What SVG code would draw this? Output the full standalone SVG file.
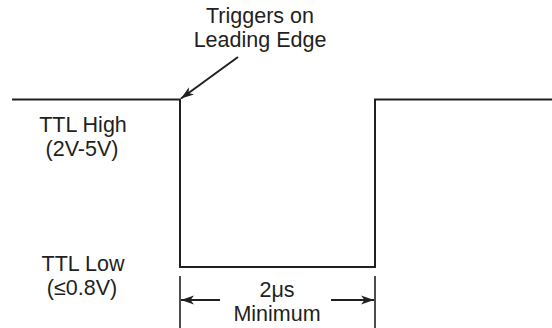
<svg xmlns="http://www.w3.org/2000/svg" width="552" height="328" viewBox="0 0 552 328">
  <style>
    .wave { fill: none; stroke: #231f20; stroke-width: 2; stroke-linejoin: miter; }
    .tick { fill: none; stroke: #231f20; stroke-width: 1.6; }
    .arr { fill: none; stroke: #231f20; stroke-width: 2; }
    text { font-family: "Liberation Sans", Arial, sans-serif; font-size: 21.5px; fill: #231f20; text-anchor: middle; }
  </style>
  <defs>
    <marker id="ah" markerWidth="14" markerHeight="10" refX="13" refY="5" orient="auto" markerUnits="userSpaceOnUse">
      <path d="M0,0.5 L13,5 L0,9.5 L3.5,5 Z" fill="#231f20"/>
    </marker>
  </defs>
  <rect width="552" height="328" fill="#ffffff"/>
  <g id="waveform">
    <path class="wave" d="M12,99.5 H180 V267 H375 V99.5 H552"/>
  </g>
  <g id="connectors">
    <line class="arr" x1="238" y1="57" x2="181" y2="98.5" marker-end="url(#ah)"/>
    <line class="tick" x1="180" y1="276" x2="180" y2="328"/>
    <line class="tick" x1="375" y1="276" x2="375" y2="328"/>
    <line class="arr" x1="220" y1="300" x2="181" y2="300" marker-end="url(#ah)"/>
    <line class="arr" x1="331" y1="300" x2="374" y2="300" marker-end="url(#ah)"/>
  </g>
  <g id="trigger-label">
    <text x="260" y="23">Triggers on</text>
    <text x="260" y="47">Leading Edge</text>
  </g>
  <g id="ttl-high">
    <text x="83" y="132">TTL High</text>
    <text x="82" y="156">(2V-5V)</text>
  </g>
  <g id="ttl-low">
    <text x="83" y="271">TTL Low</text>
    <text x="82" y="295">(≤0.8V)</text>
  </g>
  <g id="width-label">
    <text x="277" y="297">2μs</text>
    <text x="277" y="321">Minimum</text>
  </g>
</svg>
